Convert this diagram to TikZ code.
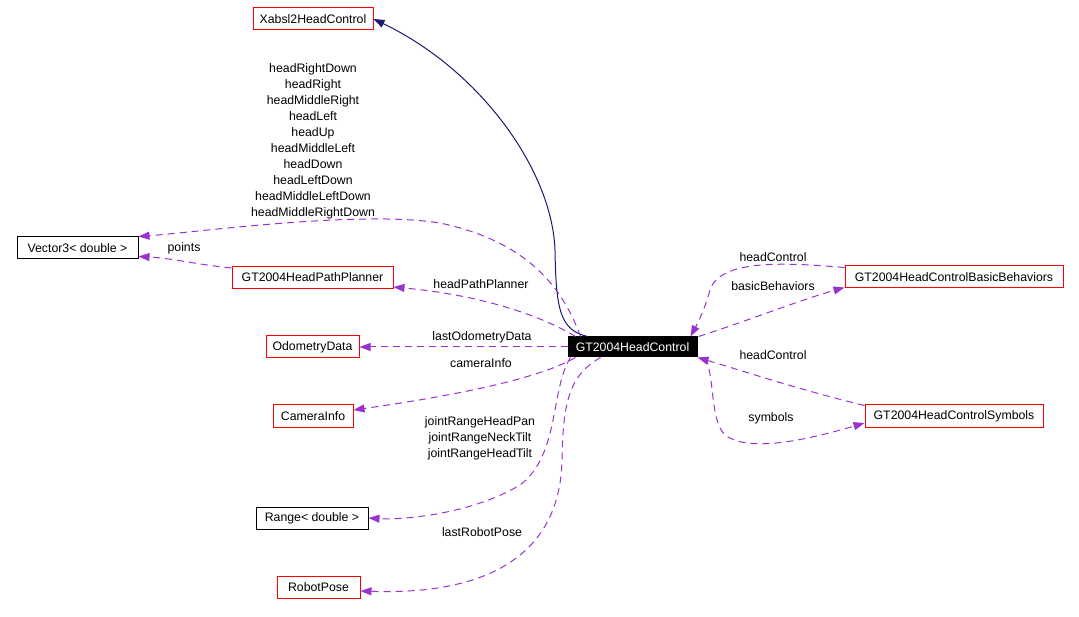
\documentclass[tikz,border=0pt]{standalone}
\usepackage{fontspec}
\setmainfont{Liberation Sans}
\usepackage{xcolor}
\usetikzlibrary{arrows.meta, positioning}
\definecolor{usecol}{HTML}{9A32CD}
\definecolor{inhcol}{HTML}{191970}

\begin{document}
\begin{tikzpicture}[
  x=1pt, y=-1pt,
  font=\fontsize{12.3}{16}\selectfont,
  cls/.style={draw=red, line width=1pt, rectangle, minimum height=22pt, inner xsep=6pt, inner ysep=0pt},
  doc/.style={cls, draw=black},
  main/.style={cls, draw=black, fill=black, text=white, minimum height=20pt},
  useedge/.style={-{Triangle[length=11pt, width=8pt]}, usecol, dash pattern=on 7pt off 5pt, line width=1pt},
  inhedge/.style={-{Triangle[length=11pt, width=8pt]}, inhcol, line width=1pt},
  lbl/.style={inner sep=0pt, align=center}
]
\useasboundingbox (0,0) rectangle (1079,617);

% classes
\node[cls, minimum width=120pt] (xabsl) at (313,19) {Xabsl2HeadControl};
\node[doc, minimum width=121pt] (vec) at (77.5,248) {Vector3< double >};
\node[cls, minimum width=161pt] (pp) at (312.5,277.5) {GT2004HeadPathPlanner};
\node[cls, minimum width=93pt] (od) at (312.5,347) {OdometryData};
\node[main, minimum width=129pt] (gt) at (632.5,347) {GT2004HeadControl};
\node[cls, minimum width=80pt] (cam) at (313,416) {CameraInfo};
\node[doc, minimum width=112pt] (rng) at (312,518) {Range< double >};
\node[cls, minimum width=83pt] (rp) at (318.5,587) {RobotPose};
\node[cls, minimum width=218pt] (bb) at (954,277) {GT2004HeadControlBasicBehaviors};
\node[cls, minimum width=178pt] (sym) at (954,416) {GT2004HeadControlSymbols};

% inheritance
\draw[inhedge] ([xshift=-45pt]gt.north) .. controls (560,330) and (556,310) .. (555,250)
  .. controls (552,170) and (480,70) .. (xabsl.east);

% usage
\draw[useedge] ([xshift=-52pt]gt.north) .. controls (560,280) and (520,240) .. (440,223)
  .. controls (360,210) and (200,232) .. (vec.north east);
\draw[useedge] ([yshift=-2pt]pp.north west) .. controls (200,265) and (170,258) .. ([yshift=3pt]vec.south east);
\draw[useedge] ([xshift=-57pt]gt.north) .. controls (540,315) and (480,295) .. ([yshift=2pt]pp.south east);
\draw[useedge] (gt.west) -- (od.east);
\draw[useedge] ([xshift=-57pt]gt.south) .. controls (545,375) and (480,392) .. ([yshift=6pt]cam.east);
\draw[useedge] ([xshift=-62pt]gt.south) .. controls (550,390) and (560,455) .. (520,485)
  .. controls (470,515) and (400,520) .. (rng.east);
\draw[useedge] ([xshift=-32pt]gt.south) .. controls (570,375) and (563,400) .. (562,460)
  .. controls (560,560) and (480,595) .. ([yshift=-4pt]rp.east);
\draw[useedge] ([yshift=-2pt]bb.north west) .. controls (780,262) and (720,260) .. (710,290)
  .. controls (703,315) and (695,328) .. ([xshift=-7pt]gt.north east);
\draw[useedge] ([xshift=1pt]gt.north east) .. controls (750,320) and (800,300) .. ([yshift=1pt]bb.south west);
\draw[useedge] ([yshift=-1pt]sym.north west) .. controls (800,390) and (740,370) .. (gt.south east);
\draw[useedge] ([xshift=8pt]gt.south east) .. controls (715,380) and (710,420) .. (725,435)
  .. controls (745,450) and (790,445) .. ([yshift=-7pt]sym.west);

% labels
\node[lbl] (lvec) at (313,141) {headRightDown\\headRight\\headMiddleRight\\headLeft\\headUp\\headMiddleLeft\\headDown\\headLeftDown\\headMiddleLeftDown\\headMiddleRightDown};
\node[lbl] (lpts) at (184,248) {points};
\node[lbl] (lpp) at (481,284) {headPathPlanner};
\node[lbl] (lod) at (482,337) {lastOdometryData};
\node[lbl] (lcam) at (481,363) {cameraInfo};
\node[lbl] (lrng) at (480,438) {jointRangeHeadPan\\jointRangeNeckTilt\\jointRangeHeadTilt};
\node[lbl] (lrp) at (482,532) {lastRobotPose};
\node[lbl] (lhc1) at (773,257) {headControl};
\node[lbl] (lbb) at (773,286) {basicBehaviors};
\node[lbl] (lhc2) at (773,355) {headControl};
\node[lbl] (lsym) at (771,418) {symbols};
\end{tikzpicture}
\end{document}
